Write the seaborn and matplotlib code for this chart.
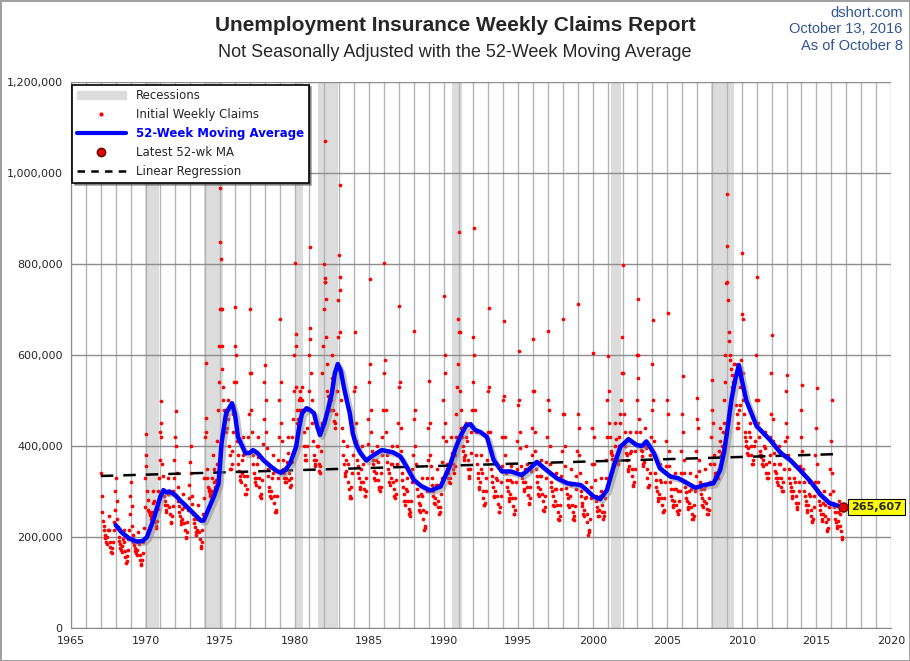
import numpy as np
import pandas as pd
import matplotlib
matplotlib.use("Agg")
import matplotlib.pyplot as plt
import matplotlib.patheffects as pe
from matplotlib.lines import Line2D
from matplotlib.patches import Patch
from matplotlib.ticker import FuncFormatter, MultipleLocator
import seaborn as sns

#####################################################################################################################
# Data (thousands of claims)
#####################################################################################################################
# not seasonally adjusted initial claims, first half of each month, Jan..Dec, one row per year
claims_early = {
    1967: [340, 255, 225, 205, 190, 200, 245, 190, 168, 175, 215, 260],
    1968: [330, 240, 200, 185, 172, 180, 215, 170, 142, 158, 195, 250],
    1969: [320, 225, 190, 175, 165, 172, 210, 160, 138, 150, 190, 265],
    1970: [426, 300, 260, 250, 245, 255, 300, 250, 220, 235, 300, 370],
    1971: [499, 360, 300, 280, 260, 270, 330, 265, 230, 245, 300, 370],
    1972: [477, 340, 280, 255, 235, 240, 295, 230, 200, 210, 260, 315],
    1973: [400, 290, 250, 230, 210, 215, 270, 210, 175, 190, 250, 330],
    1974: [582, 350, 310, 300, 290, 300, 380, 320, 310, 360, 480, 620],
    1975: [848, 620, 530, 480, 440, 440, 500, 400, 350, 360, 430, 540],
    1976: [705, 440, 380, 345, 325, 340, 420, 335, 295, 305, 385, 470],
    1977: [700, 480, 380, 340, 320, 330, 420, 330, 290, 295, 370, 460],
    1978: [578, 430, 350, 310, 290, 300, 380, 290, 255, 260, 330, 420],
    1979: [680, 450, 370, 340, 320, 330, 420, 340, 310, 330, 420, 520],
    1980: [802, 530, 450, 480, 520, 480, 530, 430, 380, 370, 440, 520],
    1981: [837, 560, 450, 380, 360, 370, 440, 360, 340, 390, 560, 700],
    1982: [1070, 640, 520, 500, 480, 500, 600, 480, 440, 470, 580, 720],
    1983: [771, 560, 440, 380, 340, 345, 400, 320, 290, 285, 340, 440],
    1984: [650, 450, 370, 340, 310, 320, 400, 320, 290, 300, 370, 460],
    1985: [767, 480, 390, 360, 330, 340, 400, 325, 305, 310, 380, 480],
    1986: [802, 480, 380, 350, 320, 330, 400, 320, 290, 295, 360, 450],
    1987: [708, 440, 340, 310, 280, 280, 330, 280, 250, 255, 320, 380],
    1988: [653, 400, 320, 290, 260, 270, 330, 260, 215, 225, 300, 370],
    1989: [543, 380, 330, 300, 275, 285, 350, 280, 250, 265, 330, 420],
    1990: [730, 450, 360, 340, 320, 330, 420, 360, 340, 380, 470, 580],
    1991: [870, 520, 440, 400, 375, 380, 450, 370, 330, 350, 430, 540],
    1992: [879, 480, 380, 340, 310, 320, 380, 300, 270, 275, 330, 430],
    1993: [703, 430, 350, 320, 290, 300, 360, 290, 255, 265, 320, 420],
    1994: [675, 420, 340, 310, 285, 295, 355, 285, 250, 260, 320, 410],
    1995: [609, 430, 355, 330, 305, 320, 400, 310, 275, 285, 345, 440],
    1996: [635, 430, 350, 320, 295, 305, 370, 295, 260, 265, 330, 420],
    1997: [653, 400, 320, 300, 270, 280, 340, 270, 240, 245, 305, 390],
    1998: [679, 400, 320, 295, 270, 290, 350, 270, 240, 245, 305, 390],
    1999: [712, 380, 300, 275, 250, 260, 320, 250, 205, 215, 285, 360],
    2000: [604, 360, 290, 265, 245, 260, 330, 270, 240, 255, 330, 420],
    2001: [598, 450, 390, 380, 360, 370, 450, 380, 360, 420, 470, 560],
    2002: [798, 470, 400, 380, 350, 355, 430, 350, 315, 320, 390, 500],
    2003: [723, 460, 400, 390, 360, 365, 440, 350, 310, 315, 380, 480],
    2004: [677, 410, 340, 310, 285, 295, 360, 285, 255, 260, 320, 410],
    2005: [692, 390, 320, 290, 270, 280, 340, 270, 250, 260, 300, 390],
    2006: [553, 370, 310, 285, 265, 275, 340, 265, 240, 245, 300, 390],
    2007: [505, 370, 320, 295, 270, 280, 350, 275, 250, 260, 320, 420],
    2008: [545, 380, 340, 340, 330, 350, 440, 380, 400, 450, 540, 758],
    2009: [954, 650, 600, 570, 530, 540, 580, 490, 440, 450, 490, 590],
    2010: [824, 500, 430, 410, 385, 395, 450, 400, 360, 370, 410, 500],
    2011: [771, 450, 390, 380, 360, 370, 430, 360, 330, 340, 380, 470],
    2012: [644, 410, 360, 340, 320, 330, 400, 330, 300, 320, 380, 450],
    2013: [556, 380, 330, 310, 290, 300, 360, 290, 265, 275, 320, 420],
    2014: [534, 350, 300, 280, 260, 270, 320, 260, 235, 240, 290, 380],
    2015: [527, 320, 280, 260, 240, 250, 300, 245, 215, 220, 265, 350],
    2016: [501, 300, 265, 240, 225, 235, 280, 225, 195],
}

# second half of each month
claims_late = {
    1967: [290, 235, 215, 198, 185, 215, 215, 178, 165, 190, 232, 300],
    1968: [280, 222, 192, 176, 168, 195, 190, 155, 148, 172, 215, 290],
    1969: [268, 205, 182, 170, 160, 188, 185, 150, 140, 165, 220, 330],
    1970: [355, 282, 255, 248, 240, 275, 280, 232, 225, 262, 330, 430],
    1971: [420, 335, 290, 270, 255, 295, 300, 250, 232, 268, 330, 420],
    1972: [400, 310, 268, 245, 228, 262, 265, 215, 198, 232, 285, 365],
    1973: [340, 272, 240, 222, 205, 240, 240, 195, 180, 215, 285, 420],
    1974: [430, 330, 305, 295, 290, 330, 350, 305, 325, 410, 540, 700],
    1975: [700, 570, 500, 460, 430, 470, 460, 380, 350, 390, 470, 620],
    1976: [540, 410, 360, 335, 320, 370, 380, 315, 295, 335, 420, 560],
    1977: [560, 430, 360, 330, 315, 360, 375, 310, 285, 325, 405, 540],
    1978: [500, 395, 335, 300, 285, 330, 340, 275, 255, 290, 370, 500],
    1979: [540, 410, 350, 330, 320, 365, 385, 325, 315, 365, 460, 600],
    1980: [620, 480, 460, 500, 505, 500, 480, 400, 370, 400, 480, 600],
    1981: [660, 500, 410, 370, 355, 400, 400, 345, 355, 450, 620, 800],
    1982: [760, 580, 510, 490, 480, 550, 540, 455, 450, 520, 640, 820],
    1983: [650, 500, 410, 360, 335, 370, 360, 305, 285, 310, 380, 520],
    1984: [530, 410, 355, 330, 305, 350, 360, 305, 290, 330, 405, 540],
    1985: [580, 430, 370, 345, 325, 370, 365, 310, 300, 340, 420, 560],
    1986: [590, 430, 365, 340, 315, 360, 360, 305, 285, 325, 400, 530],
    1987: [540, 390, 325, 295, 270, 305, 300, 262, 245, 280, 350, 460],
    1988: [480, 360, 305, 275, 255, 295, 290, 240, 220, 255, 330, 440],
    1989: [450, 355, 315, 290, 272, 315, 315, 265, 255, 295, 365, 500],
    1990: [560, 410, 350, 330, 318, 365, 385, 350, 355, 420, 530, 680],
    1991: [650, 480, 420, 390, 370, 420, 410, 350, 335, 385, 480, 640],
    1992: [600, 430, 360, 330, 305, 350, 340, 285, 270, 300, 370, 520],
    1993: [530, 390, 335, 310, 288, 330, 325, 272, 255, 290, 355, 500],
    1994: [510, 380, 325, 300, 280, 325, 320, 268, 250, 285, 350, 490],
    1995: [500, 395, 340, 320, 300, 350, 360, 292, 272, 310, 380, 520],
    1996: [520, 390, 335, 310, 290, 335, 335, 278, 258, 290, 365, 500],
    1997: [480, 360, 310, 290, 268, 305, 305, 255, 238, 270, 335, 470],
    1998: [470, 355, 308, 285, 266, 318, 315, 255, 238, 268, 335, 470],
    1999: [440, 340, 290, 268, 245, 285, 288, 232, 210, 240, 310, 440],
    2000: [420, 325, 280, 258, 245, 290, 300, 255, 245, 285, 370, 500],
    2001: [520, 420, 385, 372, 355, 400, 415, 365, 400, 450, 500, 640],
    2002: [560, 430, 385, 370, 345, 385, 390, 335, 312, 350, 430, 600],
    2003: [550, 430, 392, 378, 355, 400, 395, 330, 310, 340, 420, 580],
    2004: [500, 375, 325, 300, 280, 325, 320, 270, 255, 285, 355, 500],
    2005: [470, 355, 305, 282, 265, 305, 305, 258, 300, 280, 340, 470],
    2006: [430, 340, 298, 278, 262, 300, 305, 250, 240, 270, 335, 460],
    2007: [440, 345, 305, 285, 266, 305, 312, 262, 250, 285, 360, 480],
    2008: [450, 360, 335, 335, 330, 390, 410, 385, 430, 500, 600, 840],
    2009: [720, 630, 590, 555, 520, 580, 540, 470, 440, 480, 530, 690],
    2010: [560, 470, 420, 400, 380, 430, 420, 380, 360, 400, 450, 600],
    2011: [500, 420, 380, 375, 355, 400, 395, 340, 330, 365, 420, 560],
    2012: [460, 385, 345, 330, 315, 360, 360, 310, 300, 350, 410, 520],
    2013: [420, 350, 318, 300, 285, 330, 320, 275, 262, 300, 355, 480],
    2014: [390, 320, 290, 270, 255, 295, 290, 245, 232, 265, 320, 440],
    2015: [360, 295, 270, 250, 236, 275, 270, 232, 212, 240, 295, 410],
    2016: [340, 275, 255, 232, 220, 255, 250, 212, 200],
}

# further January weeks that stand out of the cloud
spike_year = [1970.06, 1971.06, 1974.06, 1975.02, 1975.06, 1975.10, 1976.06, 1980.08, 1981.06,
              1982.02, 1982.06, 1982.10, 1983.02, 1983.06, 1990.06, 1991.06, 2003.06, 2009.02, 2010.06]
spike_value = [380, 450, 461, 967, 811, 700, 600, 646, 635,
               770, 760, 723, 973, 743, 600, 650, 600, 760, 680]

# 52-week moving average
ma_year = [1968.0, 1968.4, 1968.9, 1969.4, 1969.8, 1970.1, 1970.5, 1971.0, 1971.2, 1971.4, 1971.6, 1972.0,
           1972.3, 1972.6, 1973.0, 1973.4, 1973.7, 1973.9, 1974.3, 1974.6, 1974.9, 1975.1, 1975.4, 1975.8,
           1976.0, 1976.2, 1976.7, 1977.0, 1977.2, 1977.5, 1977.9, 1978.4, 1978.8, 1979.1, 1979.4, 1979.7,
           1980.1, 1980.3, 1980.5, 1980.8, 1981.0, 1981.3, 1981.5, 1981.7, 1982.0, 1982.2, 1982.5, 1982.7,
           1982.9, 1983.1, 1983.3, 1983.5, 1983.7, 1983.9, 1984.1, 1984.4, 1984.8, 1985.3, 1985.85, 1986.6,
           1987.1, 1987.5, 1988.0, 1988.5, 1989.1, 1989.8, 1990.1, 1990.4, 1990.8, 1991.1, 1991.5, 1991.8,
           1992.1, 1992.45, 1992.9, 1993.35, 1993.9, 1994.5, 1995.25, 1995.8, 1996.25, 1996.9, 1997.6,
           1998.3, 1999.2, 1999.6, 2000.05, 2000.5, 2000.95, 2001.4, 2001.85, 2002.4, 2002.95, 2003.3,
           2003.6, 2004.1, 2004.5, 2005.2, 2005.75, 2006.3, 2006.9, 2007.45, 2008.1, 2008.55, 2008.8,
           2009.0, 2009.3, 2009.55, 2009.8, 2010.0, 2010.3, 2010.6, 2011.0, 2011.25, 2011.9, 2012.6,
           2013.25, 2013.9, 2014.6, 2015.3, 2015.9, 2016.77]
ma_value = [226, 210, 197, 190, 191, 200, 235, 289, 303, 298, 300, 292,
            281, 272, 259, 246, 236, 236, 267, 290, 318, 406, 472, 494,
            470, 420, 384, 385, 391, 385, 369, 355, 345, 341, 348, 362,
            398, 440, 472, 483, 480, 472, 445, 424, 450, 475, 516, 560,
            580, 565, 530, 500, 472, 428, 405, 385, 368, 380, 391, 386,
            377, 355, 325, 312, 302, 311, 333, 355, 395, 420, 445, 448,
            435, 431, 420, 369, 344, 344, 336, 351, 365, 347, 329,
            318, 314, 303, 289, 283, 303, 355, 398, 415, 402, 400,
            410, 384, 351, 333, 329, 319, 308, 314, 318, 347, 385,
            428, 501, 545, 578, 545, 500, 475, 443, 435, 413, 385,
            369, 347, 322, 292, 274, 265.607]

# linear regression line, ends
reg_year = [1967.0, 2016.3]
reg_value = [334, 382]

# recessions (start, end)
recessions = [(1969.95, 1970.9), (1973.9, 1975.2), (1980.0, 1980.55), (1981.55, 1982.9),
              (1990.55, 1991.2), (2001.2, 2001.9), (2007.95, 2009.5)]

#####################################################################################################################
# Build frames
#####################################################################################################################
rows = []
for year, values in claims_early.items():
    for m, v in enumerate(values):
        rows.append((year + (m + 0.3) / 12.0, v * 1000))
for year, values in claims_late.items():
    for m, v in enumerate(values):
        rows.append((year + (m + 0.75) / 12.0, v * 1000))
rows += [(y, v * 1000) for y, v in zip(spike_year, spike_value)]
claims = pd.DataFrame(rows, columns=["date", "claims"]).sort_values("date")
ma = pd.DataFrame({"date": ma_year, "ma": np.array(ma_value) * 1000})
reg = pd.DataFrame({"date": reg_year, "value": np.array(reg_value) * 1000})

#####################################################################################################################
# Plot
#####################################################################################################################
sns.set_style("white")
plt.rcParams["font.family"] = ["DejaVu Sans"]

fig = plt.figure(figsize=(9.1, 6.61), dpi=100)
fig.patch.set_edgecolor("#a0a0a0")
fig.patch.set_linewidth(2)
ax = fig.add_axes([0.078, 0.05, 0.901, 0.826])

for start, end in recessions:
    ax.axvspan(start, end, color="#dcdcdc", lw=0, zorder=0.2)

sns.scatterplot(data=claims, x="date", y="claims", color="#ff0000", s=7, linewidth=0, ax=ax, zorder=3)
ax.plot(reg["date"], reg["value"], color="black", lw=1.8, ls=(0, (5, 4)), zorder=4)
sns.lineplot(data=ma, x="date", y="ma", color="#0000ff", lw=3.2, ax=ax, zorder=5,
             path_effects=[pe.SimpleLineShadow(offset=(2, -2), shadow_color="#888888", alpha=0.5),
                           pe.Normal()])
last_x, last_y = ma["date"].iloc[-1], ma["ma"].iloc[-1]
ax.scatter([last_x], [last_y], s=45, color="#e00000", edgecolor="#600000", linewidth=0.8, zorder=6)
ax.annotate("{:,.0f}".format(last_y), xy=(last_x, last_y), xytext=(6, 0), textcoords="offset points",
            va="center", ha="left", fontsize=8, fontweight="bold",
            bbox=dict(boxstyle="square,pad=0.25", fc="#ffff00", ec="black", lw=0.8))

ax.set_xlim(1965, 2020)
ax.set_ylim(0, 1200000)
ax.xaxis.set_major_locator(MultipleLocator(5))
ax.xaxis.set_minor_locator(MultipleLocator(1))
ax.yaxis.set_major_locator(MultipleLocator(200000))
ax.yaxis.set_major_formatter(FuncFormatter(lambda v, p: "{:,.0f}".format(v)))
ax.set_axisbelow(True)
ax.grid(True, which="major", axis="y", color="#8c8c8c", lw=1)
ax.grid(True, which="both", axis="x", color="#b4b4b4", lw=1)
ax.tick_params(axis="both", labelsize=8, length=0, pad=6)
ax.set_xlabel("")
ax.set_ylabel("")
for side in ["top", "right"]:
    ax.spines[side].set_visible(False)
for side in ["left", "bottom"]:
    ax.spines[side].set_color("#8c8c8c")

handles = [Patch(color="#dcdcdc"),
           Line2D([], [], ls="", marker="o", ms=2, color="#ff0000"),
           Line2D([], [], color="#0000ff", lw=3),
           Line2D([], [], ls="", marker="o", ms=6, color="#e00000", mec="#600000"),
           Line2D([], [], color="black", lw=1.8, ls=(0, (3, 2.5)))]
labels = ["Recessions", "Initial Weekly Claims", "52-Week Moving Average", "Latest 52-wk MA", "Linear Regression"]
leg = ax.legend(handles, labels, loc="upper left", bbox_to_anchor=(-0.006, 1.006), fontsize=8.5,
                frameon=True, fancybox=False, shadow=True, framealpha=1, edgecolor="black",
                handlelength=4.2, labelspacing=0.5, borderpad=0.4)
leg.get_frame().set_linewidth(1.2)
leg.get_texts()[2].set_color("#0000ff")
leg.get_texts()[2].set_fontweight("bold")

title_font = ["Liberation Sans Narrow", "Liberation Sans", "DejaVu Sans"]
fig.text(0.5, 0.962, "Unemployment Insurance Weekly Claims Report", ha="center", va="center",
         fontsize=15, fontweight="bold", family=title_font)
fig.text(0.5, 0.921, "Not Seasonally Adjusted with the 52-Week Moving Average", ha="center", va="center",
         fontsize=13, family=title_font)
for i, line in enumerate(["dshort.com", "October 13, 2016", "As of October 8"]):
    fig.text(0.992, 0.981 - i * 0.025, line, ha="right", va="center", fontsize=10.5,
             color="#2f5597", family=title_font)

plt.savefig("out.png", dpi=100)
